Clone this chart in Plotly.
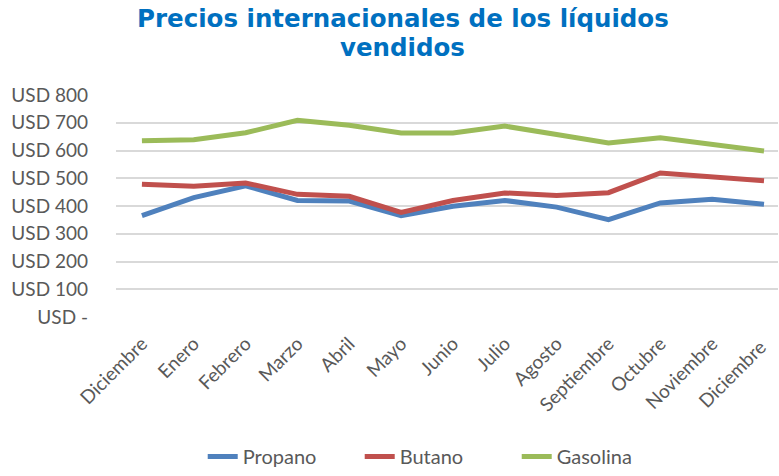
import plotly.graph_objects as go

meses = ["Diciembre", "Enero", "Febrero", "Marzo", "Abril", "Mayo", "Junio", "Julio",
         "Agosto", "Septiembre", "Octubre", "Noviembre", "Diciembre "]
propano = [365, 430, 473, 420, 418, 365, 399, 420, 396, 351, 411, 424, 406]
butano = [478, 471, 483, 442, 435, 377, 420, 447, 438, 448, 519, 507, 491]
gasolina = [635, 639, 664, 709, 691, 663, 663, 688, 658, 627, 646, 622, 598]
ytick_vals = [0, 100, 200, 300, 400, 500, 600, 700, 800]
ytick_text = ["USD -", "USD 100", "USD 200", "USD 300", "USD 400", "USD 500", "USD 600", "USD 700", "USD 800"]
titulo = ["Precios internacionales de los líquidos", "vendidos"]

x_idx = list(range(len(meses)))
fig = go.Figure()
for name, vals, col in [("Propano", propano, "#4F81BD"), ("Butano", butano, "#C0504D"), ("Gasolina", gasolina, "#9BBB59")]:
    fig.add_trace(go.Scatter(x=x_idx, y=vals, name=name, mode="lines",
                             line=dict(color=col, width=5)))

title_font = dict(family="DejaVu Sans", size=24.5, color="#0070C0", weight="bold")
for txt, yy in zip(titulo, [1.345, 1.212]):
    fig.add_annotation(text=txt, x=0.4335, y=yy, xref="paper", yref="paper",
                       xanchor="center", yanchor="middle", showarrow=False, font=title_font)

fig.update_layout(
    width=779, height=476,
    margin=dict(l=116, r=1, t=95, b=159),
    paper_bgcolor="white", plot_bgcolor="white",
    xaxis=dict(tickmode="array", tickvals=x_idx, ticktext=meses, range=[-0.5, 12.27],
               tickangle=-45, showgrid=False, zeroline=False, showline=False,
               ticklabelstandoff=11, automargin=False,
               tickfont=dict(family="Lato", size=19, color="#595959")),
    yaxis=dict(tickmode="array", tickvals=ytick_vals, ticktext=ytick_text, range=[0, 800],
               showgrid=True, gridcolor="#D9D9D9", gridwidth=1.5, zeroline=False,
               ticklabelstandoff=27, automargin=False,
               tickfont=dict(family="Lato", size=19, color="#595959")),
    legend=dict(orientation="h", x=0.131, xanchor="left", y=0, yref="container", yanchor="bottom",
                entrywidth=112, entrywidthmode="pixels",
                font=dict(family="Lato", size=20, color="#595959")),
    showlegend=True,
)
fig.write_html("out.html", post_script="document.body.style.margin='0';",
               config={"displayModeBar": False})
